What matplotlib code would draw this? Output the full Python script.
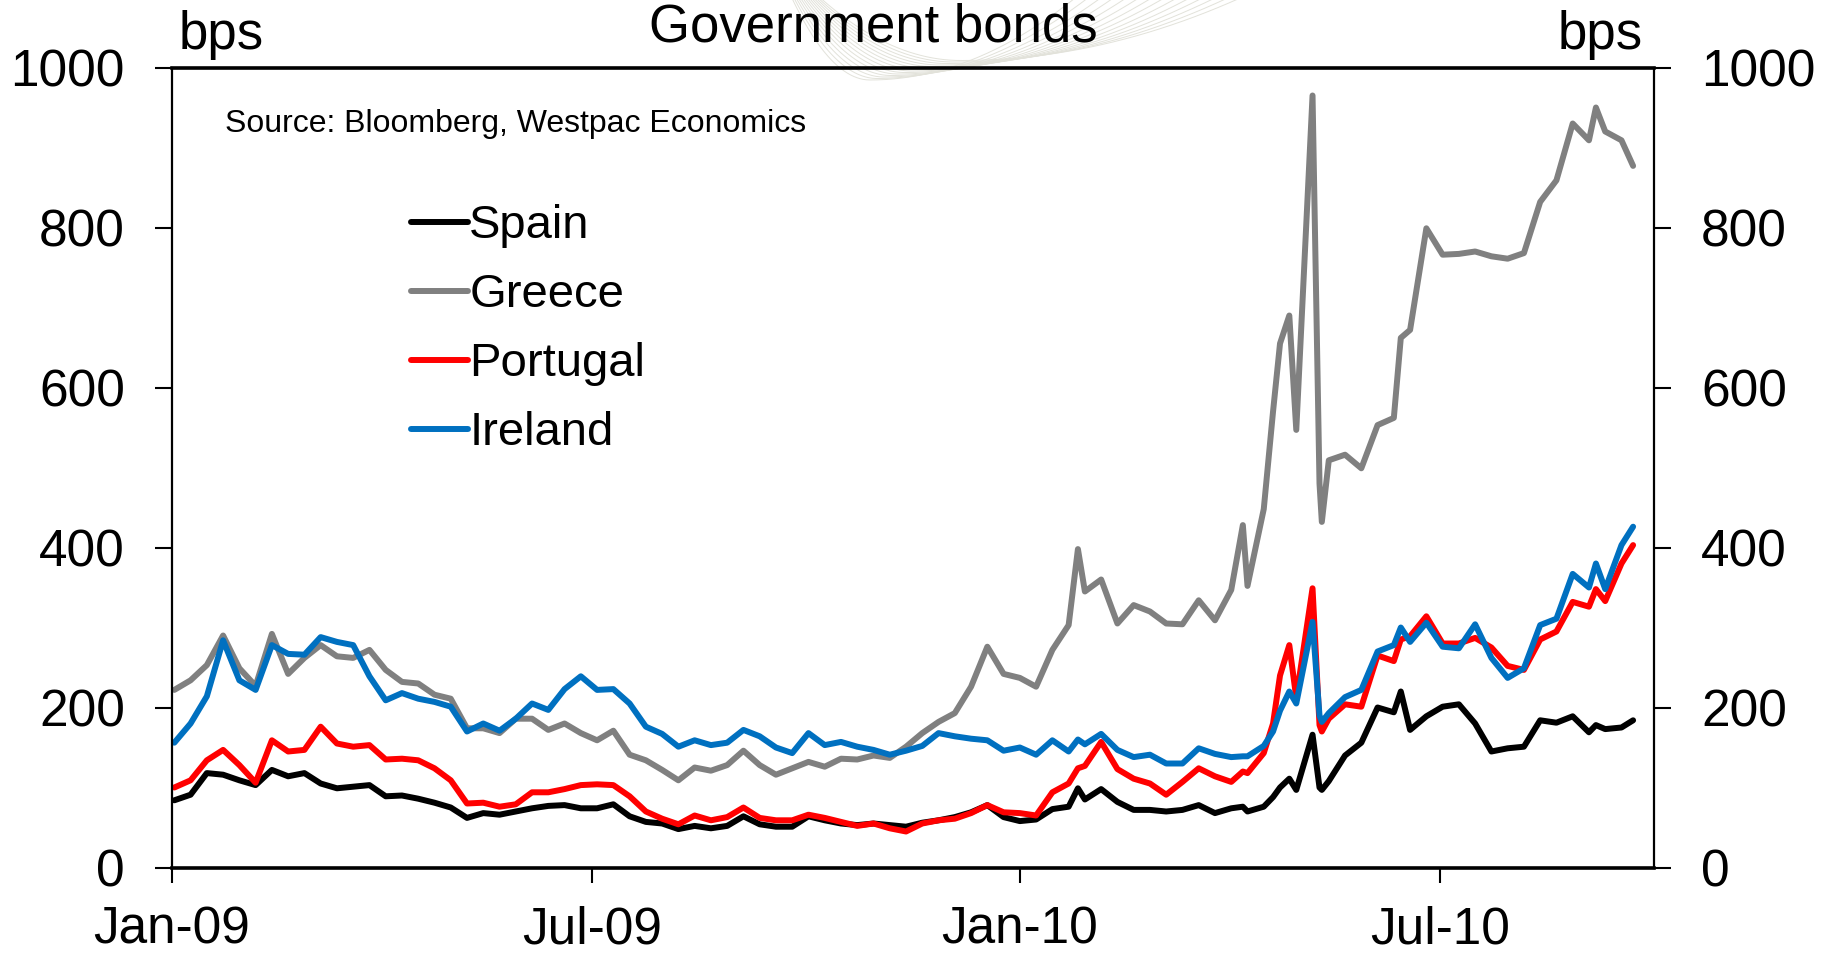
import matplotlib

matplotlib.use("Agg")

import matplotlib.dates as mdates
import matplotlib.pyplot as plt
import numpy as np
import pandas as pd

plt.rcParams["font.family"] = ["Liberation Sans", "DejaVu Sans"]

# weekly readings (Fridays) plus a few extra days around the sharp moves
DATES = [
    "2009-01-02", "2009-01-09", "2009-01-16", "2009-01-23", "2009-01-30", "2009-02-06",
    "2009-02-13", "2009-02-20", "2009-02-27", "2009-03-06", "2009-03-13", "2009-03-20",
    "2009-03-27", "2009-04-03", "2009-04-10", "2009-04-17", "2009-04-24", "2009-05-01",
    "2009-05-08", "2009-05-15", "2009-05-22", "2009-05-29", "2009-06-05", "2009-06-12",
    "2009-06-19", "2009-06-26", "2009-07-03", "2009-07-10", "2009-07-17", "2009-07-24",
    "2009-07-31", "2009-08-07", "2009-08-14", "2009-08-21", "2009-08-28", "2009-09-04",
    "2009-09-11", "2009-09-18", "2009-09-25", "2009-10-02", "2009-10-09", "2009-10-16",
    "2009-10-23", "2009-10-30", "2009-11-06", "2009-11-13", "2009-11-20", "2009-11-27",
    "2009-12-04", "2009-12-11", "2009-12-18", "2009-12-25", "2010-01-01", "2010-01-08",
    "2010-01-15", "2010-01-22", "2010-01-26", "2010-01-29", "2010-02-05", "2010-02-12",
    "2010-02-19", "2010-02-26", "2010-03-05", "2010-03-12", "2010-03-19", "2010-03-26",
    "2010-04-02", "2010-04-07", "2010-04-09", "2010-04-16", "2010-04-20", "2010-04-23",
    "2010-04-27", "2010-04-30", "2010-05-07", "2010-05-10", "2010-05-11", "2010-05-14",
    "2010-05-21", "2010-05-28", "2010-06-04", "2010-06-11", "2010-06-14", "2010-06-18",
    "2010-06-25", "2010-07-02", "2010-07-09", "2010-07-16", "2010-07-23", "2010-07-30",
    "2010-08-06", "2010-08-13", "2010-08-20", "2010-08-27", "2010-09-03", "2010-09-06",
    "2010-09-10", "2010-09-17", "2010-09-22",
]

SPAIN = [
    84, 91, 118, 116, 109, 103, 122, 114, 118, 105, 99, 101,
    103, 89, 90, 86, 81, 75, 62, 68, 66, 70, 74, 77,
    78, 74, 74, 79, 64, 57, 55, 48, 52, 49, 52, 64,
    54, 51, 51, 64, 59, 55, 53, 55, 53, 51, 56, 59,
    63, 69, 78, 63, 58, 60, 73, 76, 99, 85, 98, 82,
    72, 72, 70, 72, 78, 68, 74, 76, 70, 76, 88, 100,
    111, 97, 166, 100, 97, 108, 140, 156, 200, 194, 220, 172,
    189, 201, 204, 180, 145, 149, 151, 184, 181, 189, 169, 178,
    173, 175, 184,
]

GREECE = [
    222, 234, 253, 290, 249, 227, 292, 242, 262, 278, 264, 262,
    272, 247, 232, 230, 216, 211, 174, 174, 168, 186, 186, 172,
    180, 168, 159, 171, 141, 134, 122, 109, 125, 121, 128, 146,
    128, 116, 124, 132, 126, 136, 135, 140, 137, 151, 168, 182,
    193, 226, 276, 242, 237, 226, 272, 303, 398, 345, 360, 305,
    328, 320, 305, 304, 334, 309, 347, 428, 352, 448, 570, 655,
    690, 547, 965, 480, 432, 509, 516, 499, 553, 562, 662, 672,
    799, 766, 767, 770, 764, 761, 768, 832, 859, 930, 909, 950,
    920, 909, 877,
]

PORTUGAL = [
    100, 109, 134, 147, 128, 106, 159, 145, 147, 176, 155, 151,
    153, 135, 136, 134, 124, 109, 80, 81, 76, 79, 94, 94,
    98, 103, 104, 103, 89, 70, 61, 54, 65, 59, 63, 75,
    62, 59, 59, 66, 62, 57, 52, 55, 49, 45, 55, 59,
    61, 68, 78, 69, 68, 65, 94, 105, 124, 127, 157, 123,
    111, 105, 91, 107, 124, 114, 107, 120, 118, 143, 180, 240,
    278, 212, 349, 178, 170, 186, 204, 201, 265, 258, 285, 289,
    314, 280, 280, 287, 275, 252, 247, 285, 295, 332, 326, 348,
    333, 380, 403,
]

IRELAND = [
    156, 180, 214, 284, 234, 222, 278, 267, 266, 288, 282, 278,
    239, 209, 218, 211, 207, 201, 170, 180, 171, 186, 205, 197,
    223, 239, 222, 223, 205, 176, 167, 151, 159, 153, 156, 172,
    164, 150, 143, 168, 153, 157, 151, 147, 141, 146, 152, 168,
    164, 161, 159, 146, 150, 141, 159, 145, 160, 154, 167, 147,
    138, 141, 130, 130, 149, 142, 138, 139, 139, 152, 170, 196,
    220, 205, 307, 190, 182, 193, 213, 222, 270, 278, 300, 282,
    306, 276, 274, 304, 262, 237, 249, 303, 311, 367, 350, 380,
    348, 403, 426,
]

SERIES = [
    ("Spain", SPAIN, "#000000"),
    ("Greece", GREECE, "#808080"),
    ("Portugal", PORTUGAL, "#ff0000"),
    ("Ireland", IRELAND, "#0070c0"),
]

Y_TICKS = [0, 200, 400, 600, 800, 1000]


def draw_watermark(fig):
    # faint swoosh behind the title
    wm = fig.add_axes([0, 0, 1, 1], zorder=-5)
    wm.set_xlim(0, 1831)
    wm.set_ylim(957, 0)
    wm.axis("off")
    t = np.linspace(-1, 1, 200)
    for i in range(14):
        xv = 870 + 7 * i
        yv = 80 - 1.5 * i
        xs = xv + np.where(t < 0, 80 + 5 * i, 210 + 6 * i) * t
        ys = yv - (yv + 6) * t ** 2
        wm.plot(xs, ys, color="#e2e2da", lw=0.7)


def main():
    fig = plt.figure(figsize=(18.31, 9.57), dpi=100)
    fig.patch.set_facecolor("white")
    draw_watermark(fig)

    ax = fig.add_axes([172 / 1831, 89.5 / 957, 1482 / 1831, 800 / 957])
    ax.set_facecolor("none")
    dates = pd.to_datetime(DATES)
    for name, values, color in SERIES:
        ax.plot(dates, values, color=color, lw=4.3, label=name,
                solid_joinstyle="round", solid_capstyle="round")

    ax.set_xlim(pd.Timestamp("2009-01-01"), pd.Timestamp("2010-10-01"))
    ax.set_ylim(0, 1000)
    ax.set_yticks(Y_TICKS)
    ax.xaxis.set_major_locator(mdates.MonthLocator(bymonth=[1, 7]))
    ax.xaxis.set_major_formatter(mdates.DateFormatter("%b-%y"))

    ax.tick_params(axis="y", direction="out", left=True, right=True,
                   labelleft=True, labelright=True, length=12, width=1.5,
                   pad=22, labelsize=37)
    ax.tick_params(axis="x", direction="out", length=11, width=1.5,
                   pad=16, labelsize=37)
    for side in ["top", "bottom"]:
        ax.spines[side].set_linewidth(2.6)
    for side in ["left", "right"]:
        ax.spines[side].set_linewidth(1.6)

    leg = ax.legend(loc="upper left", bbox_to_anchor=(0.1613, 0.829), frameon=False,
                    borderaxespad=0, borderpad=0, handlelength=1.2,
                    handletextpad=0.03, labelspacing=0.53, fontsize=34)
    for line in leg.get_lines():
        line.set_linewidth(4.3)

    ax.text(0.0357, 0.929, "Source: Bloomberg, Westpac Economics", transform=ax.transAxes,
            fontsize=23, ha="left", va="center")

    fig.text(873 / 1831, 1 - 28 / 957, "Government bonds", fontsize=38, ha="center", va="center")
    fig.text(179 / 1831, 1 - 35 / 957, "bps", fontsize=38, ha="left", va="center")
    fig.text(1643 / 1831, 1 - 35 / 957, "bps", fontsize=38, ha="right", va="center")

    fig.savefig("out.png", dpi=100, facecolor="white")
    plt.close(fig)


if __name__ == "__main__":
    main()
